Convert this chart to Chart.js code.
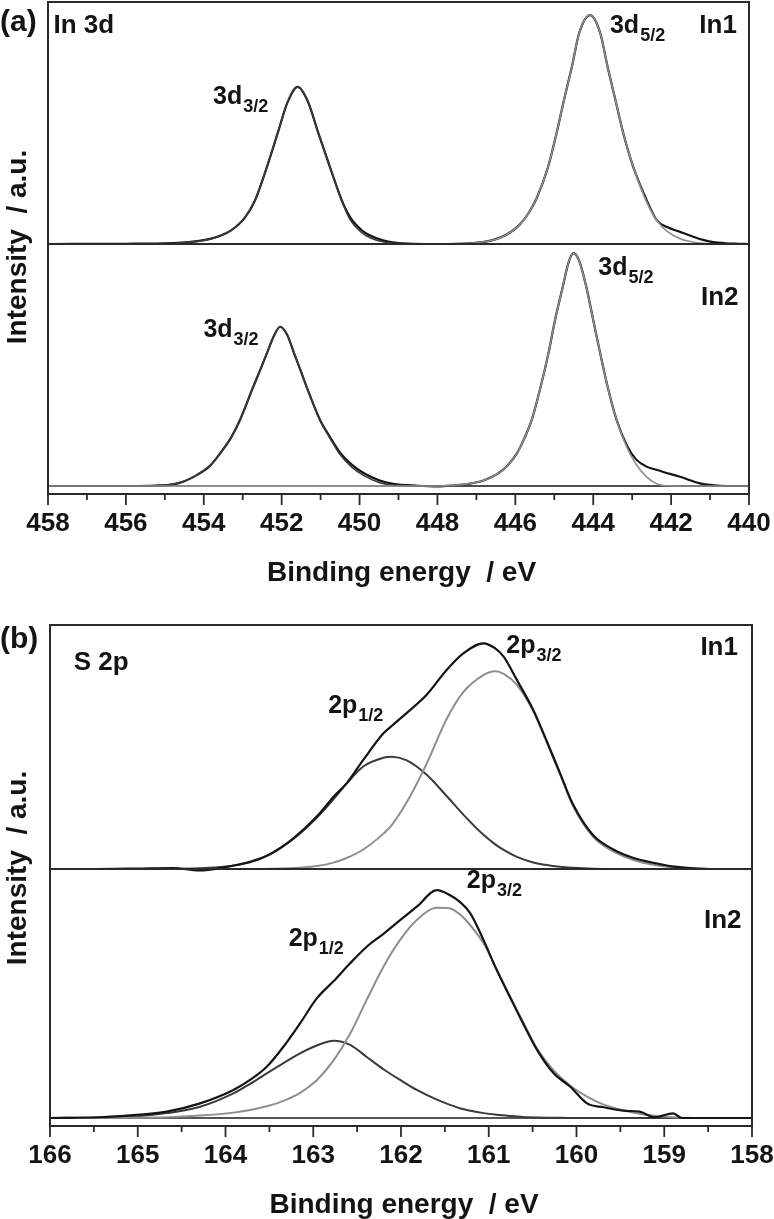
<!DOCTYPE html>
<html>
<head>
<meta charset="utf-8">
<title>In 3d / S 2p XPS</title>
<script src="https://cdn.jsdelivr.net/npm/chart.js@4.4.1/dist/chart.umd.min.js"></script>
<style>
  html, body { margin: 0; padding: 0; background: #fff; }
  body { width: 774px; height: 1219px; position: relative; overflow: hidden; }
  canvas { position: absolute; left: 0; }
  #chartA { top: 0; }
  #chartB { top: 600px; }
</style>
</head>
<body>
<canvas id="chartA" width="774" height="600"></canvas>
<canvas id="chartB" width="774" height="619"></canvas>
<script>
// ---------- panel (a): In 3d ----------
const ticksA = [458, 456, 454, 452, 450, 448, 446, 444, 442, 440];
const minorTicksA = [457, 455, 453, 451, 449, 447, 445, 443, 441];

// In1 (upper)
const energyIn1A = [
  458.0, 456.0, 455.2, 454.8, 454.4, 454.0, 453.67, 453.3, 452.94, 452.68,
  452.38, 452.1, 451.85, 451.59, 451.33, 451.06, 450.76, 450.46, 450.24, 449.95,
  449.73, 449.4, 449.1, 448.6, 448.0, 447.5, 447.1, 446.8, 446.5, 446.21,
  445.9, 445.67, 445.45, 445.16, 444.94, 444.75, 444.55, 444.36, 444.08, 443.82,
  443.63, 443.43, 443.23, 442.97, 442.63, 442.37, 442.1, 441.77, 441.5, 441.2,
  440.92, 440.6, 440.3, 440.0
];
const expIn1A = [
  0, 0.001, 0.002, 0.004, 0.008, 0.016, 0.029, 0.056, 0.11, 0.182,
  0.318, 0.459, 0.585, 0.649, 0.59, 0.459, 0.318, 0.182, 0.11, 0.058,
  0.035, 0.015, 0.006, 0.001, 0, 0.001, 0.004, 0.009, 0.02, 0.04,
  0.078, 0.125, 0.19, 0.318, 0.459, 0.595, 0.731, 0.872, 0.946, 0.872,
  0.731, 0.595, 0.459, 0.318, 0.182, 0.099, 0.07, 0.05, 0.034, 0.018,
  0.008, 0.003, 0.001, 0
];
const d32In1A = [
  0, 0, 0.001, 0.003, 0.007, 0.015, 0.028, 0.055, 0.11, 0.182,
  0.318, 0.459, 0.585, 0.649, 0.59, 0.459, 0.318, 0.18, 0.1, 0.048,
  0.026, 0.009, 0.003, 0.001, 0, 0, 0, 0, 0, 0,
  0, 0, 0, 0, 0, 0, 0, 0, 0, 0,
  0, 0, 0, 0, 0, 0, 0, 0, 0, 0,
  0, 0, 0, 0
];
const d52In1A = [
  0, 0, 0, 0, 0, 0, 0, 0, 0, 0,
  0, 0, 0, 0, 0, 0, 0, 0, 0, 0,
  0, 0, 0, 0, 0, 0.001, 0.004, 0.009, 0.02, 0.04,
  0.078, 0.125, 0.19, 0.318, 0.459, 0.595, 0.731, 0.872, 0.946, 0.872,
  0.731, 0.595, 0.459, 0.318, 0.175, 0.098, 0.052, 0.022, 0.01, 0.003,
  0, 0, 0, 0
];

// In2 (lower)
const energyIn2A = [
  458.0, 456.0, 455.2, 454.79, 454.5, 454.18, 453.85, 453.58, 453.3, 453.07,
  452.73, 452.55, 452.38, 452.2, 452.04, 451.86, 451.68, 451.52, 451.36, 451.02,
  450.75, 450.5, 450.2, 449.91, 449.5, 449.14, 448.5, 448.0, 447.6, 447.16,
  446.8, 446.48, 446.2, 445.96, 445.76, 445.58, 445.35, 445.15, 444.98, 444.78,
  444.64, 444.51, 444.36, 444.18, 444.0, 443.82, 443.63, 443.4, 443.13, 442.9,
  442.63, 442.4, 442.2, 441.77, 441.26, 440.9, 440.56, 440.0
];
const expIn2A = [
  0, 0, 0.002, 0.007, 0.02, 0.045, 0.082, 0.135, 0.2, 0.273,
  0.41, 0.48, 0.548, 0.62, 0.658, 0.625, 0.548, 0.48, 0.41, 0.275,
  0.2, 0.138, 0.088, 0.055, 0.024, 0.009, 0.001, -0.002, 0.002, 0.01,
  0.024, 0.048, 0.085, 0.135, 0.2, 0.273, 0.41, 0.548, 0.686, 0.824,
  0.92, 0.962, 0.93, 0.824, 0.686, 0.548, 0.41, 0.273, 0.165, 0.11,
  0.08, 0.068, 0.058, 0.038, 0.011, 0.003, 0, 0
];
const d32In2A = [
  0, 0, 0.002, 0.007, 0.02, 0.045, 0.082, 0.135, 0.2, 0.273,
  0.41, 0.48, 0.548, 0.62, 0.658, 0.625, 0.548, 0.48, 0.41, 0.273,
  0.195, 0.13, 0.078, 0.045, 0.015, 0.004, 0.001, 0, 0, 0,
  0, 0, 0, 0, 0, 0, 0, 0, 0, 0,
  0, 0, 0, 0, 0, 0, 0, 0, 0, 0,
  0, 0, 0, 0, 0, 0, 0, 0
];
const d52In2A = [
  0, 0, 0, 0, 0, 0, 0, 0, 0, 0,
  0, 0, 0, 0, 0, 0, 0, 0, 0, 0,
  0, 0, 0, 0, 0, 0, 0, 0, 0.002, 0.01,
  0.024, 0.048, 0.085, 0.135, 0.2, 0.273, 0.41, 0.548, 0.686, 0.824,
  0.92, 0.962, 0.93, 0.824, 0.686, 0.548, 0.41, 0.273, 0.158, 0.09,
  0.038, 0.012, 0.002, 0, 0, 0, 0, 0
];

// ---------- panel (b): S 2p ----------
const ticksB = [166, 165, 164, 163, 162, 161, 160, 159, 158];
const minorTicksB = [165.5, 164.5, 163.5, 162.5, 161.5, 160.5, 159.5, 158.5];

// In1 (upper)
const energyIn1B = [
  166.0, 165.5, 165.0, 164.6, 164.3, 164.0, 163.72, 163.49, 163.23, 162.96,
  162.77, 162.62, 162.43, 162.2, 162.11, 161.94, 161.71, 161.48, 161.29, 161.06,
  160.93, 160.83, 160.68, 160.49, 160.34, 160.19, 160.04, 159.81, 159.58, 159.35,
  159.09, 158.93, 158.7, 158.44, 158.0
];
const expIn1B = [
  0, 0, 0.002, 0.004, -0.006, 0.008, 0.03, 0.062, 0.125, 0.215,
  0.295, 0.351, 0.447, 0.556, 0.585, 0.638, 0.713, 0.816, 0.884, 0.925,
  0.905, 0.87, 0.775, 0.65, 0.525, 0.395, 0.265, 0.138, 0.08, 0.045,
  0.023, 0.012, 0.004, 0, 0
];
const p12In1B = [
  0, 0, 0, 0.001, 0.003, 0.01, 0.027, 0.06, 0.122, 0.21,
  0.286, 0.35, 0.42, 0.456, 0.46, 0.446, 0.387, 0.299, 0.223, 0.14,
  0.102, 0.078, 0.05, 0.027, 0.016, 0.009, 0.005, 0.001, 0, 0,
  0, 0, 0, 0, 0
];
const p32In1B = [
  0, 0, 0, 0, 0, 0, 0, 0.001, 0.004, 0.012,
  0.026, 0.045, 0.08, 0.145, 0.178, 0.27, 0.43, 0.615, 0.725, 0.795,
  0.81, 0.8, 0.755, 0.645, 0.52, 0.39, 0.258, 0.132, 0.072, 0.037,
  0.015, 0.007, 0.002, 0, 0
];

// In2 (lower)
const energyIn2B = [
  166.0, 165.43, 165.05, 164.67, 164.29, 163.91, 163.72, 163.53, 163.34, 163.15,
  162.96, 162.77, 162.58, 162.39, 162.2, 162.01, 161.82, 161.59, 161.45, 161.33,
  161.21, 161.06, 160.91, 160.76, 160.61, 160.45, 160.26, 160.07, 159.88, 159.69,
  159.47, 159.28, 159.11, 158.9, 158.8, 158.5, 158.0
];
const expIn2B = [
  0, 0.003, 0.012, 0.026, 0.06, 0.115, 0.156, 0.21, 0.292, 0.388,
  0.49, 0.56, 0.634, 0.702, 0.755, 0.811, 0.866, 0.934, 0.915, 0.886,
  0.839, 0.73, 0.607, 0.497, 0.388, 0.279, 0.183, 0.128, 0.06, 0.044,
  0.03, 0.026, 0.003, 0.019, 0, 0, 0
];
const p12In2B = [
  0, 0.002, 0.006, 0.02, 0.046, 0.101, 0.14, 0.183, 0.225, 0.265,
  0.297, 0.317, 0.3, 0.25, 0.2, 0.156, 0.115, 0.075, 0.055, 0.04,
  0.03, 0.02, 0.013, 0.008, 0.004, 0.002, 0.001, 0, 0, 0,
  0, 0, 0, 0, 0, 0, 0
];
const p32In2B = [
  0, 0, 0.001, 0.003, 0.01, 0.022, 0.033, 0.048, 0.07, 0.103,
  0.155, 0.235, 0.345, 0.485, 0.62, 0.73, 0.811, 0.862, 0.86, 0.835,
  0.79, 0.716, 0.61, 0.5, 0.395, 0.285, 0.195, 0.132, 0.088, 0.055,
  0.032, 0.017, 0.009, 0.003, 0.001, 0, 0
];

// ---------- drawing ----------
const FONT = '"Liberation Sans", Arial, Helvetica, sans-serif';
const INK = "#141414";
const GRAY = "#8e8e8e";
const DARK = "#3a3a3a";

function toPoints(energy, values) {
  return energy.map((e, i) => ({ x: e, y: values[i] }));
}

function curve(label, energy, values, axis, color, width, order) {
  return {
    label: label,
    data: toPoints(energy, values),
    yAxisID: axis,
    borderColor: color,
    borderWidth: width,
    pointRadius: 0,
    cubicInterpolationMode: "monotone",
    fill: false,
    clip: false,
    order: order,
  };
}

// frame, outward tick marks, titles and peak labels
const panelDecor = {
  id: "panelDecor",
  afterDraw(chart, args, opts) {
    const ctx = chart.ctx;
    const xs = chart.scales.x;
    const yTop = chart.scales.yTop;
    const left = xs.left, right = xs.right;
    const top = yTop.top, mid = yTop.bottom, bottom = chart.scales.yBot.bottom;

    ctx.save();
    ctx.strokeStyle = "#2a2a2a";
    ctx.lineWidth = 2;
    ctx.strokeRect(left, top, right - left, bottom - top);
    ctx.beginPath();
    ctx.moveTo(left, mid);
    ctx.lineTo(right, mid);
    ctx.stroke();

    ctx.lineWidth = 1.8;
    const mark = (v, len) => {
      const px = xs.getPixelForValue(v);
      ctx.beginPath();
      ctx.moveTo(px, bottom);
      ctx.lineTo(px, bottom + len);
      ctx.stroke();
    };
    opts.major.forEach((v) => mark(v, 11));
    opts.minor.forEach((v) => mark(v, 6));

    ctx.fillStyle = INK;
    ctx.textBaseline = "alphabetic";

    ctx.textAlign = "left";
    ctx.font = `bold 30px ${FONT}`;
    ctx.fillText(opts.letter, 0, opts.letterY);

    ctx.textAlign = "center";
    ctx.font = `bold 28px ${FONT}`;
    ctx.fillText("Binding energy  / eV", (left + right) / 2 + 3, bottom + 87);

    ctx.save();
    ctx.translate(18, opts.yTitleY);
    ctx.rotate(-Math.PI / 2);
    ctx.textBaseline = "middle";
    ctx.fillText("Intensity  / a.u.", 0, 0);
    ctx.restore();

    opts.notes.forEach((n) => {
      const px = xs.getPixelForValue(n.e);
      const py = chart.scales[n.axis].getPixelForValue(n.v);
      ctx.font = `bold ${n.size || 25}px ${FONT}`;
      ctx.textAlign = n.align || "left";
      ctx.fillText(n.text, px, py);
      if (n.sub) {
        const w = ctx.measureText(n.text).width;
        ctx.font = `bold 18px ${FONT}`;
        ctx.textAlign = "left";
        ctx.fillText(n.sub, px + w + 1, py + 8);
      }
    });
    ctx.restore();
  },
};

function buildPanel(canvasId, cfg) {
  const ctx = document.getElementById(canvasId).getContext("2d");
  return new Chart(ctx, {
    type: "line",
    data: { datasets: cfg.datasets },
    options: {
      responsive: false,
      animation: false,
      events: [],
      layout: { padding: cfg.padding },
      plugins: {
        legend: { display: false },
        tooltip: { enabled: false },
        panelDecor: {
          major: cfg.ticks,
          minor: cfg.minor,
          letter: cfg.letter,
          letterY: cfg.letterY,
          yTitleY: cfg.yTitleY,
          notes: cfg.notes,
        },
      },
      scales: {
        x: {
          type: "linear",
          reverse: true,
          min: cfg.xMin,
          max: cfg.xMax,
          grid: { display: false, drawTicks: false, tickLength: 0 },
          border: { display: false },
          afterBuildTicks: (scale) => {
            scale.ticks = cfg.ticks.map((v) => ({ value: v }));
          },
          afterFit: (scale) => {
            scale.height = cfg.xHeight;
            // end labels fit inside the page padding already
            scale.paddingLeft = 0;
            scale.paddingRight = 0;
          },
          ticks: {
            autoSkip: false,
            maxRotation: 0,
            padding: 14,
            color: INK,
            font: { family: FONT, size: 26, weight: "bold" },
            callback: (v) => String(v),
          },
        },
        yBot: {
          type: "linear",
          position: "left",
          stack: "panel",
          stackWeight: cfg.botWeight,
          display: false,
          min: cfg.botMin,
          max: cfg.botMax,
        },
        yTop: {
          type: "linear",
          position: "left",
          stack: "panel",
          stackWeight: cfg.topWeight,
          display: false,
          min: 0,
          max: 1,
        },
      },
    },
    plugins: [panelDecor],
  });
}

buildPanel("chartA", {
  xMin: 440, xMax: 458,
  ticks: ticksA, minor: minorTicksA,
  padding: { left: 48, right: 25, top: 2, bottom: 0 },
  xHeight: 106,
  topWeight: 242, botWeight: 250,
  botMin: -8 / 242, botMax: 1.0,
  letter: "(a)", letterY: 31, yTitleY: 247,
  datasets: [
    curve("In1 3d5/2", energyIn1A, d52In1A, "yTop", GRAY, 1.6, 0),
    curve("In1 3d3/2", energyIn1A, d32In1A, "yTop", DARK, 1.6, 0),
    curve("In1 exp", energyIn1A, expIn1A, "yTop", INK, 2.2, 1),
    curve("In1 base", [458, 440], [0, 0], "yTop", GRAY, 2, 2),
    curve("In2 3d5/2", energyIn2A, d52In2A, "yBot", GRAY, 1.6, 0),
    curve("In2 3d3/2", energyIn2A, d32In2A, "yBot", DARK, 1.6, 0),
    curve("In2 exp", energyIn2A, expIn2A, "yBot", INK, 2.2, 1),
    curve("In2 base", [458, 440], [0, 0], "yBot", GRAY, 2, 2),
  ],
  notes: [
    { text: "In 3d", e: 457.86, v: 0.871, axis: "yTop", size: 26 },
    { text: "3d", sub: "3/2", e: 453.76, v: 0.579, axis: "yTop" },
    { text: "3d", sub: "5/2", e: 443.57, v: 0.871, axis: "yTop" },
    { text: "In1", e: 440.31, v: 0.871, axis: "yTop", align: "right", size: 26 },
    { text: "3d", sub: "3/2", e: 454.01, v: 0.617, axis: "yBot" },
    { text: "3d", sub: "5/2", e: 443.87, v: 0.872, axis: "yBot" },
    { text: "In2", e: 440.27, v: 0.748, axis: "yBot", align: "right", size: 26 },
  ],
});

buildPanel("chartB", {
  xMin: 158, xMax: 166,
  ticks: ticksB, minor: minorTicksB,
  padding: { left: 50, right: 22, top: 25, bottom: 0 },
  xHeight: 93,
  topWeight: 244, botWeight: 257,
  botMin: -8 / 244, botMax: 249 / 244,
  letter: "(b)", letterY: 48, yTitleY: 268,
  datasets: [
    curve("In1 exp", energyIn1B, expIn1B, "yTop", INK, 2.2, 0),
    curve("In1 2p3/2", energyIn1B, p32In1B, "yTop", GRAY, 2, 1),
    curve("In1 2p1/2", energyIn1B, p12In1B, "yTop", DARK, 2, 2),
    curve("In2 exp", energyIn2B, expIn2B, "yBot", INK, 2.2, 0),
    curve("In2 2p3/2", energyIn2B, p32In2B, "yBot", GRAY, 2, 1),
    curve("In2 2p1/2", energyIn2B, p12In2B, "yBot", DARK, 2, 2),
    curve("In2 base", [166, 158], [0, 0], "yBot", "#555", 2, 3),
  ],
  notes: [
    { text: "S 2p", e: 165.73, v: 0.816, axis: "yTop", size: 26 },
    { text: "2p", sub: "1/2", e: 162.83, v: 0.638, axis: "yTop" },
    { text: "2p", sub: "3/2", e: 160.8, v: 0.884, axis: "yTop" },
    { text: "In1", e: 158.16, v: 0.877, axis: "yTop", align: "right", size: 26 },
    { text: "2p", sub: "1/2", e: 163.28, v: 0.705, axis: "yBot" },
    { text: "2p", sub: "3/2", e: 161.25, v: 0.941, axis: "yBot" },
    { text: "In2", e: 158.12, v: 0.777, axis: "yBot", align: "right", size: 26 },
  ],
});
</script>
</body>
</html>
